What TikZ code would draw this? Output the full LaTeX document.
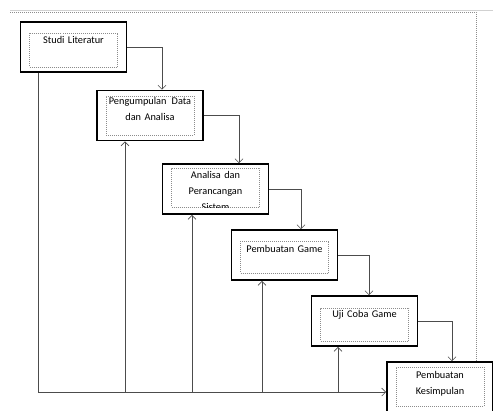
\documentclass[tikz,border=0pt]{standalone}
\usepackage{fontspec}
\setmainfont{Carlito}
\usepackage{xcolor}
\usepackage{tikz}
\usetikzlibrary{arrows.meta}
\definecolor{lineC}{rgb}{0.3,0.3,0.3}
\definecolor{dashC}{rgb}{0.55,0.55,0.55}
\definecolor{topC}{rgb}{0.82,0.82,0.82}

\begin{document}
\begin{tikzpicture}[x=1pt,y=-1pt,
        tahapBox/.style={draw=black,line width=1.8pt,minimum width=106pt,minimum height=50pt,inner sep=0pt},
        isiBox/.style={draw=dashC,line width=0.5pt,dash pattern=on 1pt off 1pt,minimum width=88pt,inner sep=0pt},
        isiText/.style={anchor=north,inner sep=0pt,text width=88pt,align=center,font=\fontsize{10.3}{16}\selectfont},
        conn/.style={draw=lineC,line width=0.6pt,-{Straight Barb[length=4pt,width=8pt]}}]
        \newcommand\tahap[6]{
                \node[tahapBox] (#1) at #2 {};
                \node[isiBox,minimum height=#4] (#1i) at ([yshift=#3]#1.center) {};
                \begin{scope}
                        \clip (#1i.south west) rectangle (#1i.north east);
                        \node[isiText] (#1t) at ([yshift=#5]#1i.north) {#6};
                \end{scope}}
        \useasboundingbox (0,0) rectangle (493,410);
        \draw[topC,line width=0.8pt] (10,10) -- (493,10);
        \draw[dashC,line width=1pt,dash pattern=on 1.2pt off 0.8pt] (10,12) -- (476,12) -- (476,362);
        \tahap{b1}{(73.5,47)}{-3pt}{34pt}{-3.5pt}{Studi Literatur}
        \tahap{b2}{(150,115.5)}{0pt}{39pt}{-1.5pt}{Pengumpulan\enspace Data\\dan Analisa}
        \tahap{b3}{(215.5,189)}{1.5pt}{39pt}{-3.5pt}{Analisa dan\\Perancangan\\Sistem}
        \tahap{b4}{(284.5,255)}{-2pt}{32pt}{-4.5pt}{Pembuatan Game}
        \tahap{b5}{(364.5,321)}{-3.5pt}{33pt}{-2.5pt}{Uji Coba Game}
        \tahap{b6}{(440,387)}{0.5pt}{39pt}{-4.5pt}{Pembuatan\\Kesimpulan}
        \draw[conn] (b1.east) -| ([xshift=12pt]b2.north);
        \draw[conn] (b2.east) -| ([xshift=23.5pt]b3.north);
        \draw[conn] (b3.east) -| ([xshift=16.5pt]b4.north);
        \draw[conn] (b4.east) -| ([xshift=4.5pt]b5.north);
        \draw[conn] (b5.east) -| ([xshift=12pt]b6.north);
        \coordinate (dasar) at (38,392);
        \coordinate (ub1) at ([xshift=-35.5pt]b1.south);
        \draw[conn] (ub1) |- (b6.west |- dasar);
        \foreach \n/\dx in {b2/-25,b3/-23.5,b4/-22.5,b5/-26.5}{
                \coordinate (u\n) at ([xshift=\dx pt]\n.south);
                \draw[conn] (u\n |- dasar) -- (u\n);
        }
\end{tikzpicture}
\end{document}
